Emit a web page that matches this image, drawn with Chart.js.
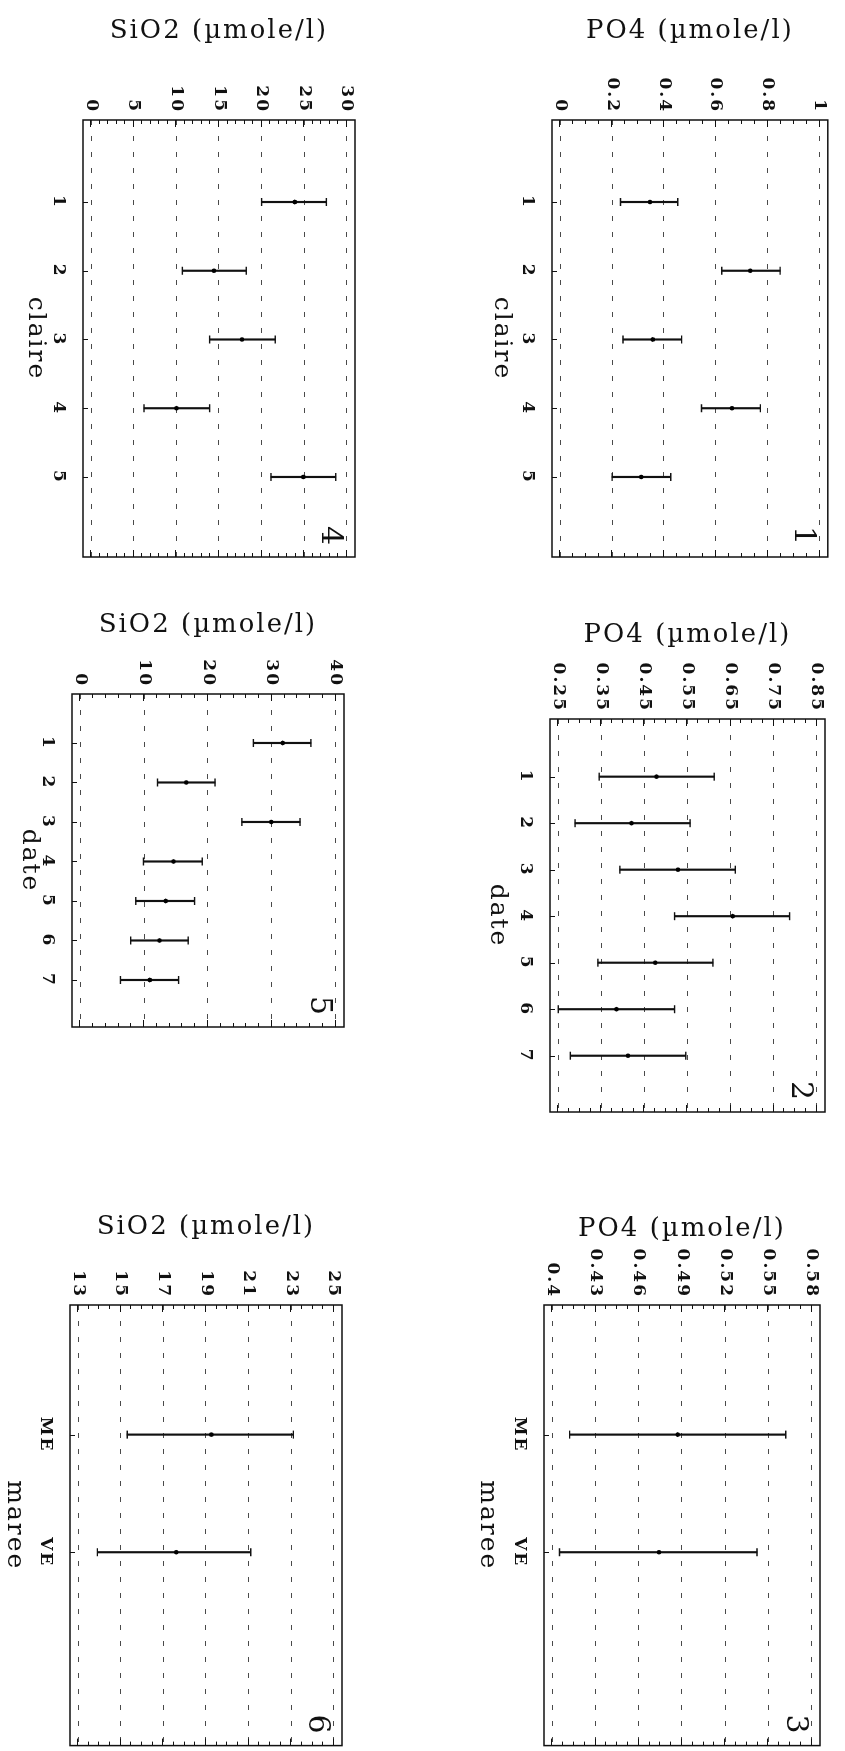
<!DOCTYPE html>
<html>
<head>
<meta charset="utf-8">
<script src="https://cdn.jsdelivr.net/npm/chart.js@4/dist/chart.umd.min.js"></script>
<style>
  html, body { margin: 0; padding: 0; background: #fff; }
  body { width: 845px; height: 1751px; position: relative; overflow: hidden; }
  .panel { position: absolute; transform-origin: 0 0; }
  .panel canvas { display: block; }
</style>
</head>
<body>
<script>
// ---------------- data ----------------
const claireCategories = ['1', '2', '3', '4', '5'];
const dateCategories = ['1', '2', '3', '4', '5', '6', '7'];
const mareeCategories = ['ME', 'VE'];

const po4Title = 'PO4 (\u00b5mole/l)';
const sio2Title = 'SiO2 (\u00b5mole/l)';

// PO4 by claire (panel 1)
const po4ClaireMean = [0.346, 0.733, 0.357, 0.662, 0.312];
const po4ClaireLow  = [0.232, 0.623, 0.242, 0.545, 0.200];
const po4ClaireHigh = [0.453, 0.848, 0.468, 0.772, 0.426];
const po4ClaireTicks = ['0', '0.2', '0.4', '0.6', '0.8', '1'];

// PO4 by date (panel 2)
const po4DateMean = [0.478, 0.420, 0.528, 0.655, 0.475, 0.385, 0.412];
const po4DateLow  = [0.345, 0.289, 0.393, 0.520, 0.342, 0.250, 0.278];
const po4DateHigh = [0.612, 0.556, 0.661, 0.787, 0.609, 0.520, 0.546];
const po4DateTicks = ['0.25', '0.35', '0.45', '0.55', '0.65', '0.75', '0.85'];

// PO4 by maree (panel 3)
const po4MareeMean = [0.487, 0.474];
const po4MareeLow  = [0.412, 0.405];
const po4MareeHigh = [0.562, 0.542];
const po4MareeTicks = ['0.4', '0.43', '0.46', '0.49', '0.52', '0.55', '0.58'];

// SiO2 by claire (panel 4)
const sio2ClaireMean = [23.9, 14.4, 17.7, 10.0, 24.9];
const sio2ClaireLow  = [20.0, 10.7, 13.9, 6.2, 21.1];
const sio2ClaireHigh = [27.6, 18.2, 21.6, 13.9, 28.7];
const sio2ClaireTicks = ['0', '5', '10', '15', '20', '25', '30'];

// SiO2 by date (panel 5)
const sio2DateMean = [31.7, 16.6, 29.9, 14.6, 13.4, 12.4, 10.9];
const sio2DateLow  = [27.1, 12.1, 25.3, 9.9, 8.7, 7.9, 6.3];
const sio2DateHigh = [36.1, 21.1, 34.4, 19.1, 17.9, 16.9, 15.4];
const sio2DateTicks = ['0', '10', '20', '30', '40'];

// SiO2 by maree (panel 6)
const sio2MareeMean = [19.25, 17.6];
const sio2MareeLow  = [15.3, 13.9];
const sio2MareeHigh = [23.1, 21.1];
const sio2MareeTicks = ['13', '15', '17', '19', '21', '23', '25'];

// ---------------- layout (drawn upright, then each panel is turned a quarter) ----------------
const INK = '#111';
const FAMILY = '"DejaVu Serif", "Liberation Serif", serif';
Chart.defaults.font.family = FAMILY;
Chart.defaults.font.size = 18;
Chart.defaults.color = INK;

const TICK_FONT = { family: FAMILY, size: 17, weight: 'bold' };
const CAT_FONT = { family: FAMILY, size: 17, weight: 'bold' };
const VAL_TITLE_FONT = { family: FAMILY, size: 26 };
const CAT_TITLE_FONT = { family: FAMILY, size: 25 };

const panels = [
  { number: '1', cats: claireCategories, catTitle: 'claire', valTitle: po4Title,
    mean: po4ClaireMean, low: po4ClaireLow, high: po4ClaireHigh, ticks: po4ClaireTicks, minor: 4,
    box: { L: 400, T: 0, W: 590, H: 445 }, area: { left: 120, right: 557, top: 17, bottom: 293 },
    titleTop: 16, catTitleBottom: 87, catRange: [-0.193, 6.164] },
  { number: '2', cats: dateCategories, catTitle: 'date', valTitle: po4Title,
    mean: po4DateMean, low: po4DateLow, high: po4DateHigh, ticks: po4DateTicks, minor: 4,
    box: { L: 400, T: 590, W: 580, H: 445 }, area: { left: 129, right: 522, top: 20, bottom: 295 },
    titleTop: 30, catTitleBottom: 83, catRange: [-0.24, 8.21] },
  { number: '3', cats: mareeCategories, catTitle: 'maree', valTitle: po4Title,
    mean: po4MareeMean, low: po4MareeLow, high: po4MareeHigh, ticks: po4MareeTicks, minor: 4,
    box: { L: 400, T: 1170, W: 581, H: 445 }, area: { left: 135, right: 577, top: 25, bottom: 301 },
    titleTop: 44, catTitleBottom: 73, catRange: [-0.102, 3.644] },
  { number: '4', cats: claireCategories, catTitle: 'claire', valTitle: sio2Title,
    mean: sio2ClaireMean, low: sio2ClaireLow, high: sio2ClaireHigh, ticks: sio2ClaireTicks, minor: 5,
    box: { L: 0, T: 0, W: 590, H: 400 }, area: { left: 120, right: 557, top: 45, bottom: 317 },
    titleTop: 16, catTitleBottom: 21, catRange: [-0.193, 6.164] },
  { number: '5', cats: dateCategories, catTitle: 'date', valTitle: sio2Title,
    mean: sio2DateMean, low: sio2DateLow, high: sio2DateHigh, ticks: sio2DateTicks, minor: 5,
    box: { L: 0, T: 590, W: 580, H: 400 }, area: { left: 104, right: 437, top: 56, bottom: 328 },
    titleTop: 20, catTitleBottom: 15, catRange: [-0.24, 8.19] },
  { number: '6', cats: mareeCategories, catTitle: 'maree', valTitle: sio2Title,
    mean: sio2MareeMean, low: sio2MareeLow, high: sio2MareeHigh, ticks: sio2MareeTicks, minor: 4,
    box: { L: 0, T: 1170, W: 581, H: 400 }, area: { left: 135, right: 577, top: 58, bottom: 330 },
    titleTop: 42, catTitleBottom: 0, catRange: [-0.102, 3.644] }
];

function valueRange(ticks) {
  const a = parseFloat(ticks[0]);
  const b = parseFloat(ticks[ticks.length - 1]);
  const pad = (b - a) * 0.032;
  return [a - pad, b + pad];
}

const framePlugin = {
  id: 'frame',
  beforeUpdate(chart) { chart.ctx.letterSpacing = '2px'; },
  beforeDraw(chart) { chart.ctx.letterSpacing = '2px'; },
  afterDraw(chart, args, o) {
    const { ctx, chartArea: a } = chart;
    const x = chart.scales.x, y = chart.scales.y;
    ctx.save();
    ctx.strokeStyle = INK;
    ctx.lineWidth = 1.5;
    ctx.strokeRect(a.left, a.top, a.right - a.left, a.bottom - a.top);
    // value-axis ticks (major + minor) pointing inward on both edges
    const tv = o.ticks.map(Number);
    const step = (tv[1] - tv[0]) / o.minor;
    const kmin = Math.ceil((y.min - tv[0]) / step - 1e-9);
    const kmax = Math.floor((y.max - tv[0]) / step + 1e-9);
    ctx.lineWidth = 1;
    ctx.beginPath();
    for (let k = kmin; k <= kmax; k++) {
      const py = Math.round(y.getPixelForValue(tv[0] + k * step)) + 0.5;
      const len = (k % o.minor === 0) ? 7 : 4;
      ctx.moveTo(a.left, py); ctx.lineTo(a.left + len, py);
      ctx.moveTo(a.right, py); ctx.lineTo(a.right - len, py);
    }
    // category ticks
    o.positions.forEach(v => {
      const px = Math.round(x.getPixelForValue(v)) + 0.5;
      ctx.moveTo(px, a.bottom); ctx.lineTo(px, a.bottom - 5);
    });
    ctx.stroke();
    // panel number
    ctx.fillStyle = INK;
    ctx.font = '30px ' + FAMILY;
    ctx.textAlign = 'right';
    ctx.textBaseline = 'alphabetic';
    ctx.fillText(o.number, a.right - 10, a.top + 33);
    ctx.restore();
  }
};

function makeConfig(p) {
  const [vmin, vmax] = valueRange(p.ticks);
  const xs = p.cats.map((c, i) => i + 1);
  return {
    type: 'bar',
    data: {
      datasets: [
        { type: 'bar', data: xs.map((x, i) => ({ x, y: [p.low[i], p.high[i]] })),
          backgroundColor: INK, borderWidth: 0, barThickness: 1.5, order: 4 },
        { type: 'line', data: xs.map((x, i) => ({ x, y: p.low[i] })), showLine: false,
          pointStyle: 'line', pointRadius: 4, pointBorderWidth: 1.4, pointBorderColor: INK,
          pointBackgroundColor: INK, borderColor: INK, order: 3 },
        { type: 'line', data: xs.map((x, i) => ({ x, y: p.high[i] })), showLine: false,
          pointStyle: 'line', pointRadius: 4, pointBorderWidth: 1.4, pointBorderColor: INK,
          pointBackgroundColor: INK, borderColor: INK, order: 2 },
        { type: 'line', data: xs.map((x, i) => ({ x, y: p.mean[i] })), showLine: false,
          pointStyle: 'circle', pointRadius: 2.3, pointBorderWidth: 0, pointBackgroundColor: '#000',
          borderColor: '#000', order: 1 }
      ]
    },
    options: {
      responsive: false,
      animation: false,
      devicePixelRatio: 1,
      events: [],
      layout: { padding: { left: 0, top: p.area.top, right: p.box.W - p.area.right, bottom: 0 } },
      plugins: {
        legend: { display: false },
        tooltip: { enabled: false },
        frame: { ticks: p.ticks, minor: p.minor, positions: xs, number: p.number }
      },
      scales: {
        x: {
          type: 'linear', min: p.catRange[0], max: p.catRange[1], offset: false,
          grid: { display: false, offset: false }, border: { display: false },
          afterBuildTicks: s => { s.ticks = xs.map(v => ({ value: v })); },
          afterFit: s => { s.height = p.box.H - p.area.bottom; },
          ticks: { autoSkip: false, minRotation: 0, maxRotation: 0, padding: 6, color: INK,
                   font: CAT_FONT, callback: (v, i) => p.cats[i] },
          title: { display: true, text: p.catTitle, color: INK, font: CAT_TITLE_FONT,
                   padding: { top: 0, bottom: p.catTitleBottom } }
        },
        y: {
          type: 'linear', min: vmin, max: vmax,
          grid: { color: '#4a4a4a', lineWidth: 1, drawTicks: false },
          border: { display: false, dash: [5, 11] },
          afterBuildTicks: s => { s.ticks = p.ticks.map(t => ({ value: parseFloat(t) })); },
          afterFit: s => { s.width = p.area.left; },
          ticks: { padding: 7, color: INK, font: TICK_FONT, callback: (v, i) => p.ticks[i] },
          title: { display: true, text: p.valTitle, color: INK, font: VAL_TITLE_FONT,
                   padding: { top: p.titleTop, bottom: 0 } }
        }
      }
    },
    plugins: [framePlugin]
  };
}

panels.forEach(p => {
  const wrap = document.createElement('div');
  wrap.className = 'panel';
  wrap.style.left = p.box.L + 'px';
  wrap.style.top = p.box.T + 'px';
  wrap.style.width = p.box.W + 'px';
  wrap.style.height = p.box.H + 'px';
  wrap.style.transform = 'translateX(' + p.box.H + 'px) rotate(90deg)';
  const cv = document.createElement('canvas');
  cv.width = p.box.W;
  cv.height = p.box.H;
  wrap.appendChild(cv);
  document.body.appendChild(wrap);
  new Chart(cv, makeConfig(p));
});
</script>
</body>
</html>
